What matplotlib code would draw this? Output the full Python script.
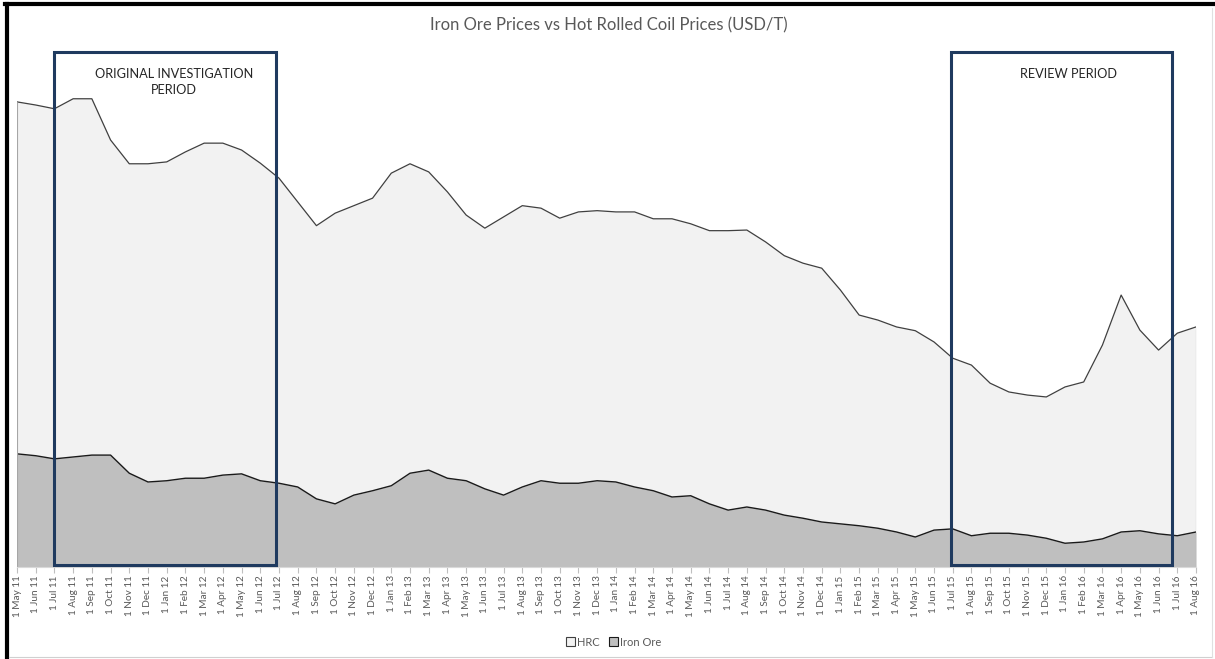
import numpy as np
import matplotlib
matplotlib.use("Agg")
import matplotlib.pyplot as plt
from matplotlib.patches import Rectangle
from matplotlib.lines import Line2D
import matplotlib.transforms as mtransforms

plt.rcParams['font.family'] = ['Lato', 'DejaVu Sans']

# monthly labels, May 2011 .. Aug 2016
months = ["Jan", "Feb", "Mar", "Apr", "May", "Jun", "Jul", "Aug", "Sep", "Oct", "Nov", "Dec"]
labels = []
for yr in range(11, 17):
    for m in months:
        labels.append("1 %s %d" % (m, yr))
labels = labels[4:4 + 64]

hrc = [744, 739, 733, 749, 749, 683, 645, 645,
       648, 664, 678, 678, 667, 646, 622, 584, 546, 566, 578, 590,
       630, 645, 632, 600, 563, 542, 560, 578, 574, 558, 568, 570,
       568, 568, 557, 557, 549, 538, 538, 539, 520, 498, 486, 478,
       443, 403, 395, 384, 378, 360, 334, 323, 294, 280, 275, 272,
       288, 296, 355, 435, 379, 347, 374, 384]

iron_ore = [181, 178, 173, 176, 179, 179, 150, 136,
            138, 142, 142, 147, 149, 138, 134, 128, 109, 101, 115, 122,
            130, 150, 155, 142, 138, 125, 115, 128, 138, 134, 134, 138,
            136, 128, 122, 112, 114, 101, 91, 96, 91, 83, 78, 72,
            69, 66, 62, 56, 48, 59, 61, 50, 54, 54, 51, 46,
            38, 40, 45, 56, 58, 53, 50, 56]

# highlighted periods (start, end in month index)
orig_period = (2.0, 13.85)
review_period = (49.9, 61.7)

x = np.arange(len(labels))

fig = plt.figure(figsize=(12.15, 6.59), dpi=100)
ax = fig.add_axes([17 / 1215, 1 - 567 / 659, (1196 - 17) / 1215, (567 - 45) / 659])

ax.fill_between(x, 0, hrc, color="#f2f2f2", lw=0, label="HRC")
ax.plot(x, hrc, color="#404040", lw=0.9)
ax.fill_between(x, 0, iron_ore, color="#bfbfbf", lw=0, label="Iron Ore")
ax.plot(x, iron_ore, color="#1a1a1a", lw=1.0)
ax.vlines([x[0], x[-1]], 0, [hrc[0], hrc[-1]], color="#a6a6a6", lw=0.8)

ax.set_xlim(0, len(labels) - 1)
ax.set_ylim(0, 835)
ax.set_yticks([])
for s in ["top", "right", "left"]:
    ax.spines[s].set_visible(False)
ax.spines["bottom"].set_color("#d9d9d9")
ax.set_xticks(x)
ax.set_xticklabels(labels, rotation=90, fontsize=7.2, color="#595959")
ax.tick_params(axis="x", length=4, color="#bfbfbf", pad=2)

trans = mtransforms.blended_transform_factory(ax.transData, ax.transAxes)
for (a, b) in [orig_period, review_period]:
    ax.add_patch(Rectangle((a, 0.003), b - a, 0.984, transform=trans, fill=False,
                           edgecolor="#1f3a5f", lw=2.2, zorder=5, clip_on=False))

ax.text(8.4, 0.955, "ORIGINAL INVESTIGATION\nPERIOD", transform=trans, ha="center",
        va="top", fontsize=9.2, color="#262626", linespacing=1.35)
ax.text(56.2, 0.955, "REVIEW PERIOD", transform=trans, ha="center", va="top",
        fontsize=9.2, color="#262626")

fig.text(0.501, 1 - 25 / 659, "Iron Ore Prices vs Hot Rolled Coil Prices (USD/T)",
         ha="center", va="center", fontsize=12, color="#595959")

handles = [Rectangle((0, 0), 1, 1, facecolor="#f2f2f2", edgecolor="#404040", lw=0.8),
           Rectangle((0, 0), 1, 1, facecolor="#bfbfbf", edgecolor="#1a1a1a", lw=0.8)]
fig.legend(handles, ["HRC", "Iron Ore"], loc="center", bbox_to_anchor=(0.505, 1 - 642 / 659),
           ncol=2, frameon=False, fontsize=8, labelcolor="#595959",
           handlelength=0.8, handleheight=0.8, handletextpad=0.2, columnspacing=0.8)

# frame around the chart
fig.add_artist(Line2D([7 / 1215, 7 / 1215], [0, 1 - 4 / 659], transform=fig.transFigure,
                      color="black", lw=3))
fig.add_artist(Line2D([5 / 1215, 1], [1 - 4 / 659, 1 - 4 / 659], transform=fig.transFigure,
                      color="black", lw=3))
fig.add_artist(Line2D([9 / 1215, 1212 / 1215], [1 - 657 / 659, 1 - 657 / 659],
                      transform=fig.transFigure, color="#d0d0d0", lw=0.8))
fig.add_artist(Line2D([1212 / 1215, 1212 / 1215], [1 - 657 / 659, 1 - 8 / 659],
                      transform=fig.transFigure, color="#e0e0e0", lw=0.8))

fig.savefig("out.png", dpi=100)
